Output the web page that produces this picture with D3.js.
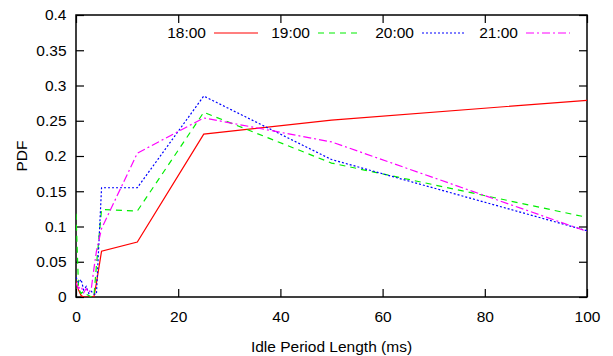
<!DOCTYPE html>
<html>
<head>
<meta charset="utf-8">
<script src="https://cdn.jsdelivr.net/npm/d3@7/dist/d3.min.js"></script>
<style>
  html, body { margin: 0; padding: 0; background: #fff; }
  svg { display: block; }
  text { font-family: "Liberation Sans", Arial, Helvetica, sans-serif; }
</style>
</head>
<body>
<svg id="chart" width="613" height="356"></svg>
<script>
// ---- data ----
const xValues = [0, 0.5, 1, 1.5, 2, 2.5, 3, 3.5, 4, 5, 12, 25, 50, 100];
const series18 = [0.022, 0.010, 0.002, 0, 0, 0, 0, 0, 0.020, 0.065, 0.078, 0.231, 0.251, 0.279];
const series19 = [0.118, 0.012, 0.005, 0.008, 0.004, 0.002, 0, 0, 0.045, 0.124, 0.122, 0.262, 0.190, 0.113];
const series20 = [0.028, 0.020, 0.025, 0.010, 0.015, 0.005, 0.008, 0.004, 0.004, 0.155, 0.155, 0.285, 0.195, 0.094];
const series21 = [0.020, 0.012, 0.015, 0.006, 0.012, 0.006, 0.012, 0.040, 0.065, 0.097, 0.204, 0.254, 0.220, 0.093];
const seriesNames = ["18:00", "19:00", "20:00", "21:00"];
const xTicks = [0, 20, 40, 60, 80, 100];
const yTicks = [0, 0.05, 0.1, 0.15, 0.2, 0.25, 0.3, 0.35, 0.4];
const xLabel = "Idle Period Length (ms)";
const yLabel = "PDF";

// ---- styles ----
const colors = ["#ff0000", "#00ee00", "#0000ff", "#ff00ff"];
const dashes = [null, "6,5", "2,2", "8,3,2,3"];

const W = 613, H = 356;
const margin = { left: 76, right: 26, top: 15, bottom: 59 };
const fontSize = 15.5;

const svg = d3.select("#chart");
const x = d3.scaleLinear().domain([0, 100]).range([margin.left, W - margin.right]);
const y = d3.scaleLinear().domain([0, 0.4]).range([H - margin.bottom, margin.top]);

const fmtY = d => d === 0 ? "0" : String(+d.toFixed(2));

// axes
const gB = svg.append("g").attr("transform", `translate(0,${H - margin.bottom})`)
  .call(d3.axisBottom(x).tickValues(xTicks).tickSize(-8).tickPadding(14).tickFormat(d3.format("d")));
const gT = svg.append("g").attr("transform", `translate(0,${margin.top})`)
  .call(d3.axisTop(x).tickValues(xTicks).tickSize(-8).tickFormat(""));
const gL = svg.append("g").attr("transform", `translate(${margin.left},0)`)
  .call(d3.axisLeft(y).tickValues(yTicks).tickSize(-8).tickPadding(9.5).tickFormat(fmtY));
const gR = svg.append("g").attr("transform", `translate(${W - margin.right},0)`)
  .call(d3.axisRight(y).tickValues(yTicks).tickSize(-8).tickFormat(""));

[gB, gT, gL, gR].forEach(g => {
  g.select(".domain").remove();
  g.selectAll(".tick line").attr("stroke", "#000").attr("stroke-width", 1.2);
  g.selectAll("text").attr("font-size", fontSize).attr("fill", "#000")
    .style("font-family", '"Liberation Sans", Arial, sans-serif');
});

// border
svg.append("rect")
  .attr("x", x(0)).attr("y", y(0.4))
  .attr("width", x(100) - x(0)).attr("height", y(0) - y(0.4))
  .attr("fill", "none").attr("stroke", "#000").attr("stroke-width", 1.5);

// clip
svg.append("clipPath").attr("id", "clip").append("rect")
  .attr("x", x(0)).attr("y", y(0.4))
  .attr("width", x(100) - x(0)).attr("height", y(0) - y(0.4));

const allSeries = [series18, series19, series20, series21];
const line = d3.line().x(d => x(d[0])).y(d => y(d[1]));

const gLines = svg.append("g").attr("clip-path", "url(#clip)");
allSeries.forEach((vals, i) => {
  const pts = xValues.map((xv, j) => [xv, vals[j]]);
  gLines.append("path")
    .datum(pts)
    .attr("d", line)
    .attr("fill", "none")
    .attr("stroke", colors[i])
    .attr("stroke-width", 1.2)
    .attr("stroke-dasharray", dashes[i]);
});

// legend
const legendY = 33;
seriesNames.forEach((name, i) => {
  const tx = 206 + 104 * i;
  svg.append("text")
    .attr("x", tx).attr("y", legendY)
    .attr("dy", "0.35em")
    .attr("text-anchor", "end")
    .attr("font-size", fontSize)
    .text(name);
  svg.append("line")
    .attr("x1", tx + 8).attr("x2", tx + 52)
    .attr("y1", legendY).attr("y2", legendY)
    .attr("stroke", colors[i])
    .attr("stroke-width", 1.2)
    .attr("stroke-dasharray", dashes[i]);
});

// axis titles
svg.append("text")
  .attr("x", (x(0) + x(100)) / 2).attr("y", 347)
  .attr("dy", "0.35em")
  .attr("text-anchor", "middle")
  .attr("font-size", fontSize)
  .text(xLabel);

svg.append("text")
  .attr("transform", `translate(22,${(y(0) + y(0.4)) / 2}) rotate(-90)`)
  .attr("dy", "0.35em")
  .attr("text-anchor", "middle")
  .attr("font-size", fontSize)
  .text(yLabel);
</script>
</body>
</html>
